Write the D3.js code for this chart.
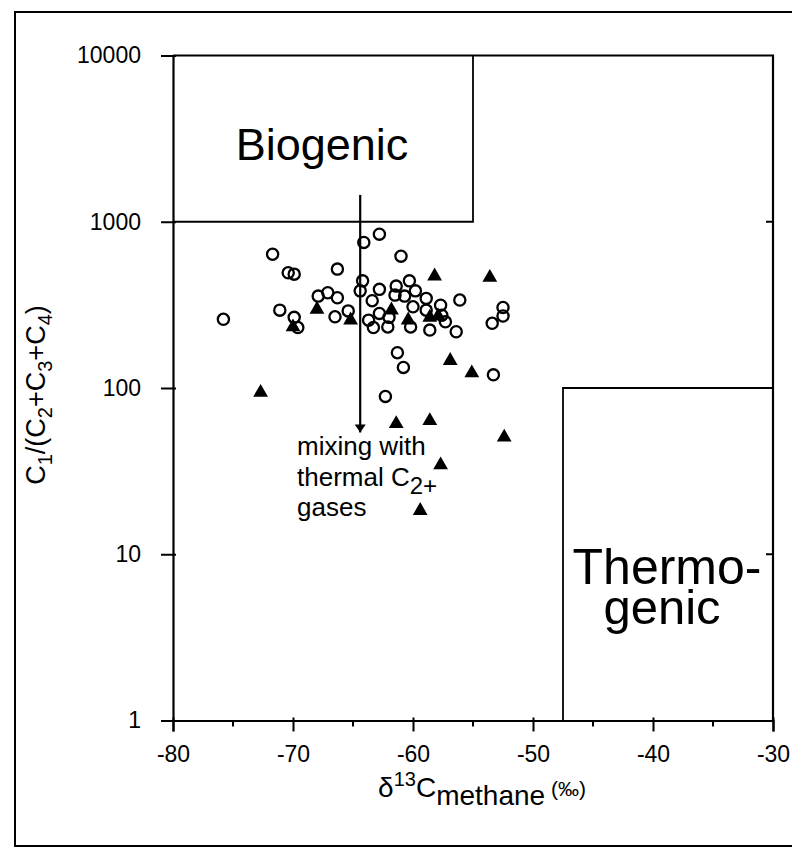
<!DOCTYPE html>
<html>
<head>
<meta charset="utf-8">
<script src="https://cdn.jsdelivr.net/npm/d3@7"></script>
<style>
  body { margin: 0; background: #fff; }
  svg { display: block; }
  text { font-family: "Liberation Sans", Arial, Helvetica, sans-serif; fill: #000; }
</style>
</head>
<body>
<svg id="chart" width="792" height="852"></svg>
<script>
// Open circles: delta13C of methane (permil) and C1/(C2+C3+C4)
const circleD13C = [-71.7, -70.4, -69.9, -66.3, -64.1, -62.8, -61.0, -64.2, -64.4, -62.8,
  -61.4, -67.9, -67.1, -66.3, -63.4, -71.1, -69.9, -69.6, -75.8, -66.5,
  -65.4, -62.8, -63.7, -63.3, -62.0, -60.3, -61.5, -60.7, -59.8, -58.9,
  -56.1, -60.0, -57.7, -52.5, -52.5, -53.4, -56.4, -58.6, -60.2, -62.1,
  -57.3, -61.3, -58.9, -57.6, -60.8, -53.3, -62.3];
const circleRatio = [638, 493, 484, 519, 751, 842, 621, 441, 384, 392,
  410, 357, 374, 349, 335, 294, 266, 231, 259, 268,
  291, 281, 256, 231, 266, 441, 362, 357, 384, 346,
  338, 308, 315, 305, 271, 245, 218, 223, 233, 233,
  250, 163, 294, 274, 133, 120, 89];

// Filled triangles
const triangleD13C = [-68.0, -70.0, -65.2, -61.8, -58.2, -53.6, -60.4, -58.6, -57.9,
  -56.9, -55.1, -72.7, -61.4, -58.6, -52.4, -57.7, -59.4];
const triangleRatio = [297, 233, 256, 294, 471, 462, 256, 266, 271,
  146, 123, 94, 61, 63.5, 50.5, 34.4, 18.3];

// Genetic fields
const biogenicD13C = [-80, -55];
const biogenicRatio = [1000, 10000];
const thermogenicD13C = [-47.5, -30];
const thermogenicRatio = [1, 100];

// Mixing trend arrow
const mixingD13C = -64.4;
const mixingRatio = [1450, 54];

// Axis ticks
const xTicks = [-80, -70, -60, -50, -40, -30];
const xMinorTicks = [-75, -65, -55, -45, -35];
const yTicks = [1, 10, 100, 1000, 10000];

const svg = d3.select("#chart");

// outer figure border
svg.append("rect")
  .attr("x", 15).attr("y", 12).attr("width", 790).attr("height", 834)
  .attr("fill", "none").attr("stroke", "#000").attr("stroke-width", 2);

const x = d3.scaleLinear().domain([-80, -30]).range([173, 773]);
const y = d3.scaleLog().domain([1, 10000]).range([720.5, 55.5]);

const axisW = 2.2;

// plot frame (top and right edges)
svg.append("path")
  .attr("d", `M${x(-80)},${y(10000)}H${x(-30)}V${y(1)}`)
  .attr("fill", "none").attr("stroke", "#000").attr("stroke-width", axisW);

// Field boxes
svg.append("path")
  .attr("d", `M${x(biogenicD13C[0])},${y(biogenicRatio[0])}H${x(biogenicD13C[1])}V${y(biogenicRatio[1])}`)
  .attr("fill", "none").attr("stroke", "#000").attr("stroke-width", 1.8);
svg.append("path")
  .attr("d", `M${x(thermogenicD13C[0])},${y(thermogenicRatio[0])}V${y(thermogenicRatio[1])}H${x(thermogenicD13C[1])}`)
  .attr("fill", "none").attr("stroke", "#000").attr("stroke-width", 1.8);

// small inward ticks on the right edge
svg.append("g").selectAll("line").data([10, 1000]).join("line")
  .attr("x1", x(-30)).attr("x2", x(-30) - 7)
  .attr("y1", d => y(d)).attr("y2", d => y(d))
  .attr("stroke", "#000").attr("stroke-width", 2);

// X axis
const gx = svg.append("g")
  .attr("transform", `translate(0,${y(1)})`)
  .call(d3.axisBottom(x).tickValues(xTicks).tickSize(11).tickPadding(14).tickFormat(d => String(d)));
gx.select(".domain").attr("stroke-width", axisW);
gx.selectAll(".tick line").attr("y1", -3).attr("stroke-width", 2);
gx.selectAll(".tick text").attr("font-size", 23).attr("font-family", null);

svg.append("g").selectAll("line").data(xMinorTicks).join("line")
  .attr("x1", d => x(d)).attr("x2", d => x(d))
  .attr("y1", y(1)).attr("y2", y(1) + 6)
  .attr("stroke", "#000").attr("stroke-width", 2);

// Y axis
const gy = svg.append("g")
  .attr("transform", `translate(${x(-80)},0)`)
  .call(d3.axisLeft(y).tickValues(yTicks).tickSize(12).tickPadding(20).tickFormat(d3.format("d")));
gy.select(".domain").attr("stroke-width", axisW);
gy.selectAll(".tick line").attr("x1", 3).attr("stroke-width", 2);
gy.selectAll(".tick text").attr("font-size", 23).attr("font-family", null);

// Field labels
svg.append("text").attr("x", 322).attr("y", 160)
  .attr("text-anchor", "middle").attr("font-size", 45).text("Biogenic");
const thermo = svg.append("text")
  .attr("text-anchor", "middle").attr("font-size", 50);
thermo.append("tspan").attr("x", 667).attr("y", 584).text("Thermo-");
thermo.append("tspan").attr("x", 662).attr("y", 624).attr("font-size", 49).text("genic");

// Mixing arrow
svg.append("defs").append("marker")
  .attr("id", "arrowhead").attr("viewBox", "0 0 8 14")
  .attr("refX", 8).attr("refY", 7)
  .attr("markerWidth", 8).attr("markerHeight", 14)
  .attr("markerUnits", "userSpaceOnUse").attr("orient", "auto")
  .append("path").attr("d", "M0,1.5L8,7L0,12.5Z").attr("fill", "#000");
svg.append("line")
  .attr("x1", x(mixingD13C)).attr("x2", x(mixingD13C))
  .attr("y1", y(mixingRatio[0])).attr("y2", y(mixingRatio[1]))
  .attr("stroke", "#000").attr("stroke-width", 2.2)
  .attr("marker-end", "url(#arrowhead)");

const mix = svg.append("g").attr("font-size", 26);
mix.append("text").attr("x", 297).attr("y", 455).text("mixing with");
const t2 = mix.append("text").attr("x", 297).attr("y", 486);
t2.append("tspan").text("thermal C");
t2.append("tspan").attr("font-size", 24).attr("dy", 8).text("2+");
mix.append("text").attr("x", 297).attr("y", 516).text("gases");

// Data points
const circles = d3.zip(circleD13C, circleRatio);
svg.append("g").selectAll("circle").data(circles).join("circle")
  .attr("cx", d => x(d[0])).attr("cy", d => y(d[1])).attr("r", 5.6)
  .attr("fill", "none").attr("stroke", "#000").attr("stroke-width", 2.3);

const triangles = d3.zip(triangleD13C, triangleRatio);
const tri = d3.symbol().type(d3.symbolTriangle).size(95);
svg.append("g").selectAll("path").data(triangles).join("path")
  .attr("transform", d => `translate(${x(d[0])},${y(d[1])})`)
  .attr("d", tri).attr("fill", "#000");

// Axis titles
const yl = svg.append("text")
  .attr("transform", "translate(45,395) rotate(-90)")
  .attr("text-anchor", "middle").attr("font-size", 27);
yl.append("tspan").text("C");
yl.append("tspan").attr("font-size", 20).attr("dy", 7).text("1");
yl.append("tspan").attr("dy", -7).text("/(C");
yl.append("tspan").attr("font-size", 20).attr("dy", 7).text("2");
yl.append("tspan").attr("dy", -7).text("+C");
yl.append("tspan").attr("font-size", 20).attr("dy", 7).text("3");
yl.append("tspan").attr("dy", -7).text("+C");
yl.append("tspan").attr("font-size", 20).attr("dy", 7).text("4");
yl.append("tspan").attr("dy", -7).text(")");

const xl = svg.append("text")
  .attr("x", 482).attr("y", 797)
  .attr("text-anchor", "middle").attr("font-size", 28);
xl.append("tspan").text("δ");
xl.append("tspan").attr("font-size", 20).attr("dy", -11).text("13");
xl.append("tspan").attr("dy", 11).text("C");
xl.append("tspan").attr("dy", 8).text("methane");
xl.append("tspan").attr("font-size", 21).attr("dy", -9).text(" (‰)");
</script>
</body>
</html>
